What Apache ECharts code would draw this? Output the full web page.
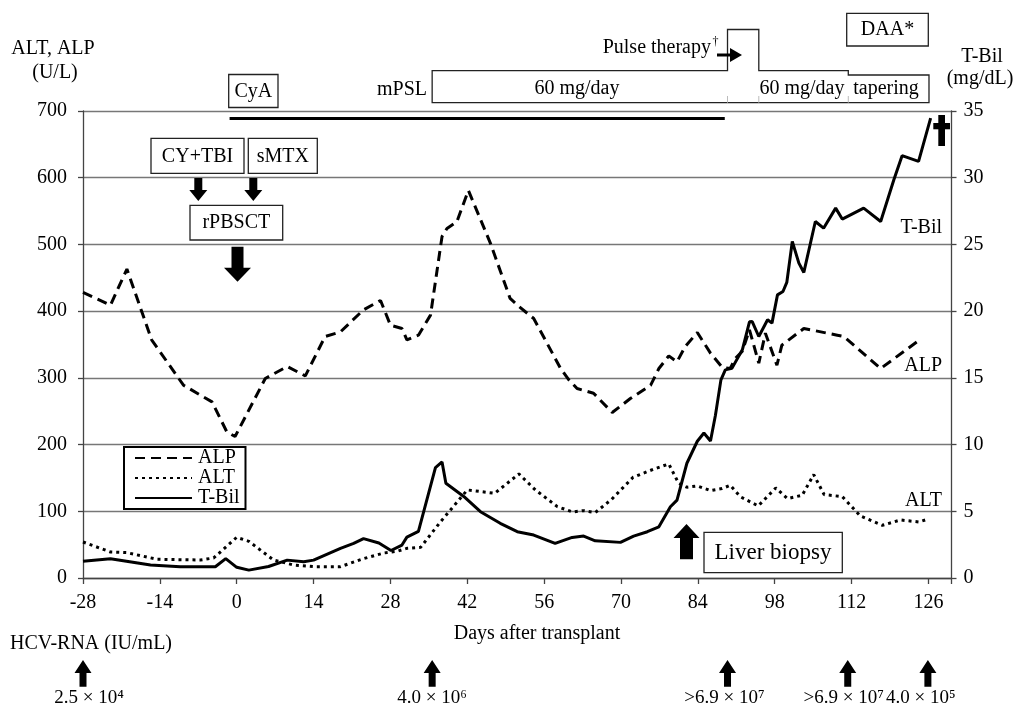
<!DOCTYPE html>
<html><head><meta charset="utf-8">
<script src="https://cdn.jsdelivr.net/npm/echarts@6/dist/echarts.min.js"></script>
<style>html,body{margin:0;padding:0;background:#fff}#c{width:1013px;height:705px}</style>
</head><body><div id="c"></div>
<script>
// ---- data ----
const xTicks = [-28,-14,0,14,28,42,56,70,84,98,112,126];
const alpDays = [-28,-23,-20,-15.5,-9.7,-4.5,-1.8,-0.3,5.2,9.2,12.5,16.1,18.9,23.1,26.2,28,30.1,31,33.1,35.3,37.4,38.3,40.1,42.2,46.2,49.8,51.4,54.1,59,60.5,62,65,68.4,71.7,75.4,76.9,78.7,80.2,81.7,83.9,86.3,88.4,89.9,90.8,92.1,93.4,95.1,96.3,98.4,99.3,103.3,109.4,110.6,117.3,123.9];
const alpValues = [428,409,463,357,289,264,219,212,299,317,303,362,369,402,416,379,374,357,364,394,512,524,534,581,502,419,407,389,314,297,284,277,248,269,289,314,333,324,347,368,337,316,314,329,340,372,322,367,319,349,374,364,362,314,354];
const altDays = [-28,-23,-20,-14.5,-6.6,-4.2,0,2.2,6.7,10.4,14,18.9,23.1,26.8,29.2,31,33.5,37.1,42,47,51.4,54.4,58.4,61.2,63.2,65.3,68.3,72.2,75.9,78.7,80.5,82,83.9,86.3,88.4,89.9,91.7,95,98.2,100.3,103,105.1,107,110.3,113.6,117.6,120.9,124.3,125.8];
const altValues = [54,39,38,28,27,30,61,55,27,19.4,17,17,29,37.5,40,44.5,46,84,132,127,156,132,107,99,101,98,118,151,163,171,142,136,138,131,134,139,122,108,135,119,124,155,125,122,93,79,87,84,88];
const tbilDays = [-28,-23,-15.7,-10.3,-3.9,-2,0,2.2,5.8,9.2,12.2,14,18.9,21.3,23.1,25.9,28.1,30.1,31,33.1,36.2,37.4,38.1,41.6,44.4,48,51.1,54.1,58,61.1,63.2,65.3,69.9,72.3,74.8,76.9,79,80.2,82,83.9,85.1,86.3,87.2,88.2,89,90.2,92.1,93.4,93.9,95.1,96.7,97.5,98.5,99.5,100.2,101.2,102.4,103.3,105.4,106.9,109.1,110.3,114.2,117.3,119.7,121.2,124.2,126.4];
const tbilValues = [1.25,1.45,0.97,0.84,0.84,1.45,0.8,0.59,0.86,1.34,1.22,1.34,2.22,2.59,2.95,2.62,2.06,2.47,3.06,3.5,8.28,8.7,7.1,6.03,4.97,4.1,3.47,3.22,2.59,3.04,3.14,2.79,2.67,3.14,3.47,3.84,5.34,5.84,8.6,10.25,10.87,10.27,12.2,14.85,15.6,15.71,17.1,19.2,19.22,18.1,19.35,19.1,21.22,21.47,22.15,25.22,23.6,22.9,26.72,26.22,27.72,26.9,27.72,26.72,29.85,31.65,31.22,34.47];
const hcvDays = [-28,35.6,89.4,111.3,125.9];
const hcvLabels = ['2.5 × 10⁴','4.0 × 10⁶','>6.9 × 10⁷','>6.9 × 10⁷','4.0 × 10⁵'];

const FF = '"Liberation Serif","Times New Roman",serif';
const zip = (a,b)=>a.map((d,i)=>[d,b[i]]);

const chart = echarts.init(document.getElementById('c'), null, {renderer:'canvas'});
chart.setOption({
  animation:false,
  backgroundColor:'#fff',
  grid:{left:83, right:61.5, top:111, bottom:127},
  xAxis:{type:'value', min:-28, max:130.2, interval:14,
    axisLine:{show:true, onZero:false, lineStyle:{color:'#444', width:1.3}},
    axisTick:{show:true, length:6, lineStyle:{color:'#444', width:1.3}},
    axisLabel:{margin:15, color:'#000', fontFamily:FF, fontSize:20,
      formatter:v=> xTicks.indexOf(v)>=0 ? String(v) : ''},
    splitLine:{show:false}},
  yAxis:[
    {type:'value', min:0, max:700, interval:100,
     axisLine:{show:true, onZero:false, lineStyle:{color:'#444', width:1.3}},
     axisTick:{show:true, length:5, lineStyle:{color:'#444', width:1.3}},
     axisLabel:{margin:16, color:'#000', fontFamily:FF, fontSize:20},
     splitLine:{show:true, lineStyle:{color:'#777', width:1.3}}},
    {type:'value', min:0, max:35, interval:5, position:'right',
     axisLine:{show:true, onZero:false, lineStyle:{color:'#444', width:1.3}},
     axisTick:{show:true, length:5, lineStyle:{color:'#444', width:1.3}},
     axisLabel:{margin:12, color:'#000', fontFamily:FF, fontSize:20},
     splitLine:{show:false}}
  ],
  legend:{data:['ALP','ALT','T-Bil'], orient:'vertical', left:124, top:447,
    itemWidth:57, itemHeight:14, itemGap:0, padding:[1,6,1,10],
    borderColor:'#000', borderWidth:2, backgroundColor:'#fff', z:20,
    itemStyle:{color:'rgba(0,0,0,0)', borderColor:'rgba(0,0,0,0)', borderWidth:0},
    textStyle:{fontFamily:FF, fontSize:20, color:'#000', padding:[0,0,0,1]}},
  series:[
    {name:'ALP', type:'line', data:zip(alpDays,alpValues), symbol:'none', z:3,
     lineStyle:{color:'#000', width:3, type:[10,6]}, itemStyle:{color:'#000'}},
    {name:'ALT', type:'line', data:zip(altDays,altValues), symbol:'none', z:3,
     lineStyle:{color:'#000', width:3, type:[3,4]}, itemStyle:{color:'#000'}},
    {name:'T-Bil', type:'line', yAxisIndex:1, data:zip(tbilDays,tbilValues), symbol:'none', z:4,
     lineStyle:{color:'#000', width:3}, itemStyle:{color:'#000'}}
  ]
});

// ---- annotations ----
const X = d => chart.convertToPixel({xAxisIndex:0}, d);
function box(x1,y1,x2,y2){return {type:'rect', z:100, shape:{x:x1,y:y1,width:x2-x1,height:y2-y1}, style:{fill:'#fff', stroke:'#222', lineWidth:1.3}};}
function txt(t,x,y,align,size){return {type:'text', z:101, x:x, y:y, style:{text:t, fill:'#000', fontFamily:FF, fontSize:size||20, align:align||'center', verticalAlign:'middle'}};}
function poly(pts){return {type:'polygon', z:101, shape:{points:pts}, style:{fill:'#000'}};}
function downArrow(cx,y0,tip,sw,hw,hh){return poly([[cx-sw/2,y0],[cx+sw/2,y0],[cx+sw/2,tip-hh],[cx+hw/2,tip-hh],[cx,tip],[cx-hw/2,tip-hh],[cx-sw/2,tip-hh]]);}
function upArrow(cx,tip,y1,sw,hw,hh){return poly([[cx,tip],[cx+hw/2,tip+hh],[cx+sw/2,tip+hh],[cx+sw/2,y1],[cx-sw/2,y1],[cx-sw/2,tip+hh],[cx-hw/2,tip+hh]]);}

const g = [];
// axis titles
g.push(txt('ALT, ALP',53,49), txt('(U/L)',55,73));
g.push(txt('T-Bil',982,57), txt('(mg/dL)',980,79));
g.push(txt('Days after transplant',537,634));
g.push(txt('HCV-RNA (IU/mL)',10,644,'left'));
// CyA
g.push(box(228.7,74.5,278,107.5), txt('CyA',253.4,91.5));
g.push({type:'line', z:101, shape:{x1:X(-1.3),y1:118.5,x2:X(88.9),y2:118.5}, style:{stroke:'#000', lineWidth:3}});
// mPSL
g.push(txt('mPSL',427,90,'right'));
const xa=X(35.6), xb=X(89.4), xc=X(95.1), xd=X(111.4), xe=X(126.1);
g.push({type:'polygon', z:100, shape:{points:[[xa,70.7],[xb,70.7],[xb,29.5],[xc,29.5],[xc,70.7],[xd,70.7],[xd,75],[xe,75],[xe,102.7],[xa,102.7]]}, style:{fill:'#fff', stroke:'#222', lineWidth:1.3}});
[xb,xc,xd].forEach(x=>g.push({type:'line', z:101, shape:{x1:x,y1:96,x2:x,y2:102.7}, style:{stroke:'#bbb', lineWidth:1}}));
g.push(txt('60 mg/day',577,88.5), txt('60 mg/day',802,88.5), txt('tapering',886,88.5));
g.push(txt('Pulse therapy',711,48,'right'), txt('†',712.5,42,'left',12));
g.push({type:'line', z:101, shape:{x1:717,y1:55,x2:733,y2:55}, style:{stroke:'#000', lineWidth:3}});
g.push(poly([[730,48],[742,55],[730,62]]));
// DAA
g.push(box(846.7,13.3,928.3,46), txt('DAA*',887.5,30));
// conditioning
g.push(box(151,138.3,244,173.3), txt('CY+TBI',197.5,156.5));
g.push(box(248.3,138.3,317.3,173.3), txt('sMTX',282.8,156.5));
g.push(downArrow(198.3,178,201,8,18,11), downArrow(253.3,178,201,8,18,11));
g.push(box(190,205.3,282.7,240), txt('rPBSCT',236.3,223));
g.push(downArrow(237.5,246.7,281.7,12,27,14));
// liver biopsy
g.push(upArrow(686.5,524,559.3,13,26,14));
g.push(box(704,532.3,842.3,572.7), txt('Liver biopsy',773,553,'center',23));
// death mark
g.push({type:'rect', z:101, shape:{x:938.3,y:115,width:6.7,height:31}, style:{fill:'#000'}});
g.push({type:'rect', z:101, shape:{x:933.3,y:123,width:16.7,height:6.3}, style:{fill:'#000'}});
// series labels
g.push(txt('T-Bil',942,228,'right'), txt('ALP',942,366,'right'), txt('ALT',942,501,'right'));
// HCV-RNA
const labOffsets=[6,0,-3,-4,-7];
hcvDays.forEach((d,i)=>{
  const cx=X(d);
  g.push(upArrow(cx,660,686.7,7,17,13));
  g.push(txt(hcvLabels[i],cx+labOffsets[i],698,'center',19));
});
chart.setOption({graphic:g});
</script></body></html>
